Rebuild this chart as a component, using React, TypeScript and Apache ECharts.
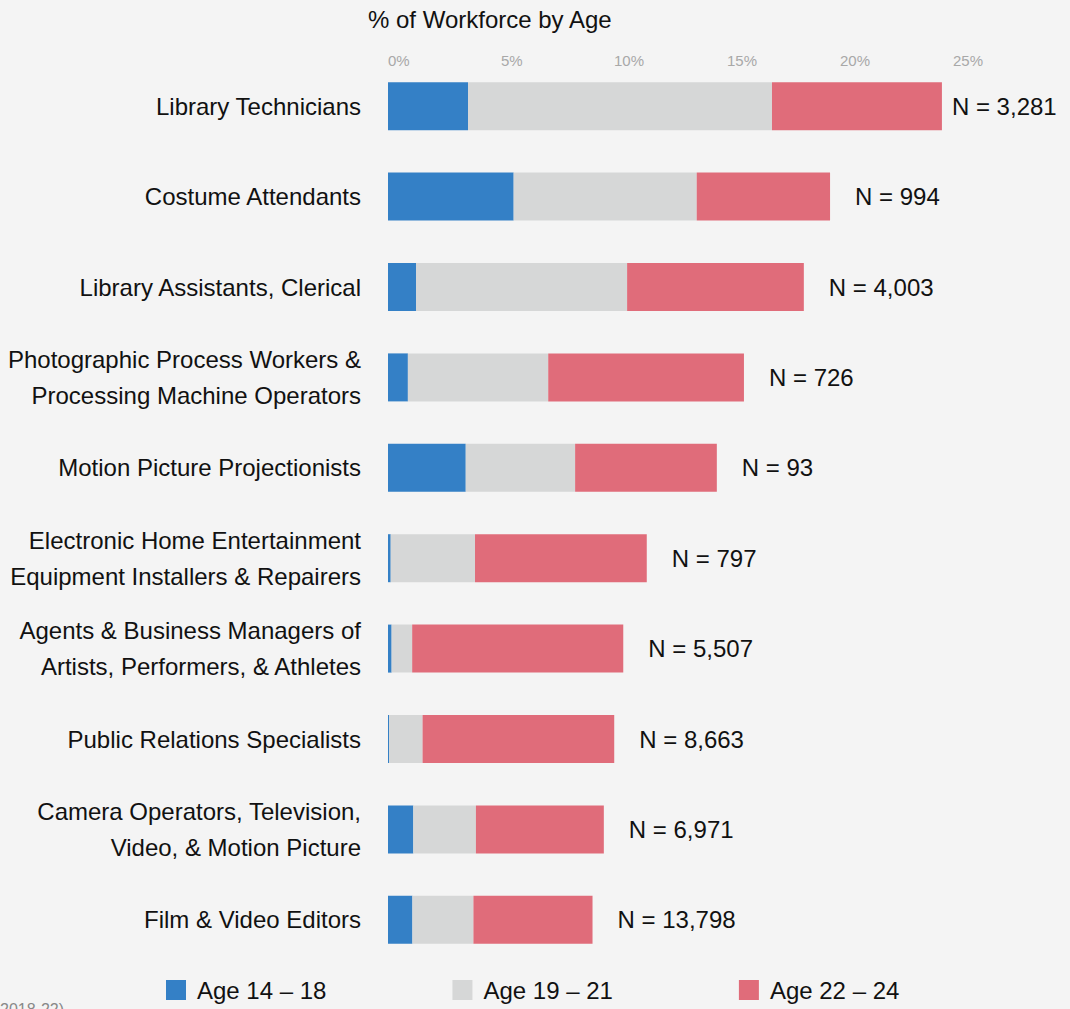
import React, { useEffect, useRef } from "react";
import * as echarts from "echarts";

const categories = [
  "Library Technicians",
  "Costume Attendants",
  "Library Assistants, Clerical",
  "Photographic Process Workers &\nProcessing Machine Operators",
  "Motion Picture Projectionists",
  "Electronic Home Entertainment\nEquipment Installers & Repairers",
  "Agents & Business Managers of\nArtists, Performers, & Athletes",
  "Public Relations Specialists",
  "Camera Operators, Television,\nVideo, & Motion Picture",
  "Film & Video Editors",
];

const age14to18 = [3.54, 5.56, 1.24, 0.88, 3.44, 0.12, 0.16, 0.05, 1.12, 1.08];
const age19to21 = [13.45, 8.1, 9.34, 6.21, 4.84, 3.73, 0.91, 1.48, 2.77, 2.7];
const age22to24 = [7.52, 5.9, 7.82, 8.66, 6.27, 7.6, 9.34, 8.48, 5.66, 5.27];

const nLabels = ["3,281", "994", "4,003", "726", "93", "797", "5,507", "8,663", "6,971", "13,798"];

const seriesNames = ["Age 14 \u2013 18", "Age 19 \u2013 21", "Age 22 \u2013 24"];
const xTicks = [0, 5, 10, 15, 20, 25];

const FONT = "'Liberation Sans', Arial, sans-serif";

export default function App() {
  const ref = useRef<HTMLDivElement>(null);

  useEffect(() => {
    document.body.style.margin = "0";
    document.body.style.background = "#f4f4f4";
    if (!ref.current) return;
    const chart = echarts.init(ref.current, null, { renderer: "svg" });

    const option = {
      animation: false,
      backgroundColor: "#f4f4f4",
      textStyle: { fontFamily: FONT },
      title: {
        text: "% of Workforce by Age",
        left: 363,
        top: 2,
        textStyle: { fontSize: 24, fontWeight: "normal", color: "#111", fontFamily: FONT },
      },
      legend: {
        data: seriesNames,
        left: 166,
        top: 978,
        padding: 0,
        itemWidth: 20,
        itemHeight: 20,
        itemGap: 126,
        icon: "rect",
        textStyle: { fontSize: 24, color: "#111", fontFamily: FONT, padding: [0, 0, 0, 6] },
      },
      grid: { left: 388, right: 117, top: 61, bottom: 44, containLabel: false },
      xAxis: {
        type: "value",
        position: "top",
        min: xTicks[0],
        max: xTicks[xTicks.length - 1],
        interval: 5,
        axisLine: { show: false },
        axisTick: { show: false },
        splitLine: { show: false },
        axisLabel: {
          formatter: "{value}%",
          align: "left",
          margin: -7,
          fontSize: 15,
          color: "#a8a8a8",
          fontFamily: FONT,
        },
      },
      yAxis: {
        type: "category",
        inverse: true,
        data: categories,
        axisLine: { show: false },
        axisTick: { show: false },
        axisLabel: {
          fontSize: 24,
          color: "#111",
          margin: 27,
          lineHeight: 36,
          align: "right",
          fontFamily: FONT,
        },
      },
      series: [
        {
          name: seriesNames[0],
          type: "bar",
          stack: "total",
          barWidth: 48,
          itemStyle: { color: "#3480c6" },
          data: age14to18,
        },
        {
          name: seriesNames[1],
          type: "bar",
          stack: "total",
          barWidth: 48,
          itemStyle: { color: "#d6d7d7" },
          data: age19to21,
        },
        {
          name: seriesNames[2],
          type: "bar",
          stack: "total",
          barWidth: 48,
          itemStyle: { color: "#e06c7a" },
          label: {
            show: true,
            position: "right",
            distance: 25,
            fontSize: 24,
            color: "#111",
            fontFamily: FONT,
            formatter: (p: any) => "N = " + nLabels[p.dataIndex],
          },
          data: age22to24.map((v, i) => (i === 0 ? { value: v, label: { distance: 10 } } : v)),
        },
      ],
      graphic: [
        {
          type: "text",
          left: 0,
          top: 1001,
          style: { text: "2018-22)", fontSize: 16, fill: "#888", fontFamily: FONT },
        },
      ],
    };

    chart.setOption(option as any);
    return () => chart.dispose();
  }, []);

  return <div ref={ref} style={{ width: 1070, height: 1009 }} />;
}
